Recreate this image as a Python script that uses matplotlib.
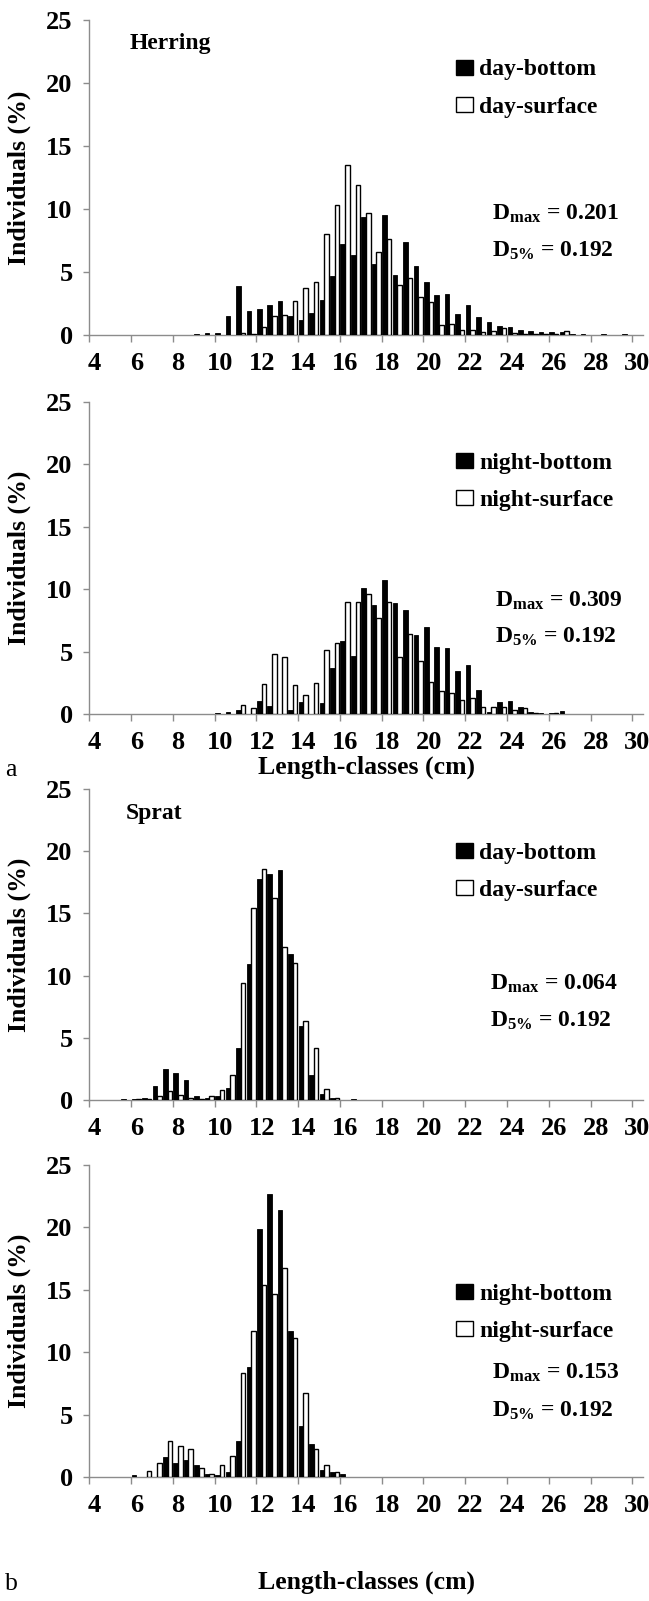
import matplotlib
matplotlib.use("Agg")
import matplotlib.pyplot as plt
from matplotlib.patches import Patch
from matplotlib.ticker import FixedLocator
import numpy as np

plt.rcParams['font.family'] = 'Liberation Serif'
plt.rcParams['font.weight'] = 'bold'
plt.rcParams['mathtext.fontset'] = 'custom'
plt.rcParams['mathtext.rm'] = 'Liberation Serif:bold'
plt.rcParams['mathtext.bf'] = 'Liberation Serif:bold'
plt.rcParams['mathtext.it'] = 'Liberation Serif:bold'

# ---------------- data ----------------
length_classes = [4.0, 4.5, 5.0, 5.5, 6.0, 6.5, 7.0, 7.5, 8.0, 8.5,
                  9.0, 9.5, 10.0, 10.5, 11.0, 11.5, 12.0, 12.5, 13.0, 13.5,
                  14.0, 14.5, 15.0, 15.5, 16.0, 16.5, 17.0, 17.5, 18.0, 18.5,
                  19.0, 19.5, 20.0, 20.5, 21.0, 21.5, 22.0, 22.5, 23.0, 23.5,
                  24.0, 24.5, 25.0, 25.5, 26.0, 26.5, 27.0, 27.5, 28.0, 28.5,
                  29.0, 29.5, 30.0]

herring_day_bottom = [0, 0, 0, 0, 0, 0, 0, 0, 0, 0,
                      0.1, 0.15, 0.15, 1.5, 3.85, 1.9, 2.05, 2.4, 2.7, 1.5,
                      1.2, 1.75, 2.8, 4.65, 7.25, 6.35, 9.35, 5.65, 9.55, 4.75,
                      7.4, 5.5, 4.2, 3.15, 3.25, 1.65, 2.35, 1.4, 1.05, 0.75,
                      0.65, 0.4, 0.3, 0.25, 0.2, 0.2, 0.1, 0.1, 0, 0.08,
                      0, 0.08, 0]
herring_day_surface = [0, 0, 0, 0, 0, 0, 0, 0, 0, 0,
                       0, 0, 0, 0, 0.15, 0.1, 0.65, 1.5, 1.55, 2.7,
                       3.75, 4.2, 8.05, 10.3, 13.5, 11.9, 9.65, 6.6, 7.6, 4.0,
                       4.55, 3.0, 2.6, 0.8, 0.9, 0.4, 0.4, 0.25, 0.3, 0.55,
                       0.15, 0.1, 0.05, 0.05, 0.05, 0.3, 0, 0, 0, 0,
                       0, 0, 0]
herring_night_bottom = [0, 0, 0, 0, 0, 0, 0, 0, 0, 0,
                        0, 0, 0.05, 0.15, 0.3, 0, 1.05, 0.65, 0, 0.3,
                        1.0, 0, 0.9, 3.65, 5.85, 4.65, 10.1, 8.7, 10.75, 8.9,
                        8.35, 6.35, 6.95, 5.4, 5.25, 3.45, 3.9, 1.95, 0.2, 0.95,
                        1.05, 0.6, 0.15, 0.1, 0.1, 0.25, 0, 0, 0, 0,
                        0, 0, 0]
herring_night_surface = [0, 0, 0, 0, 0, 0, 0, 0, 0, 0,
                         0, 0, 0, 0, 0.75, 0.45, 2.4, 4.8, 4.55, 2.3,
                         1.5, 2.5, 5.15, 5.7, 8.95, 9.0, 9.6, 7.7, 9.0, 4.55,
                         6.45, 4.25, 2.6, 1.85, 1.7, 1.15, 1.3, 0.6, 0.6, 0.6,
                         0.35, 0.5, 0.1, 0, 0.05, 0, 0, 0, 0, 0,
                         0, 0, 0]
sprat_day_bottom = [0, 0, 0, 0.08, 0.08, 0.2, 1.1, 2.5, 2.2, 1.6,
                    0.3, 0.15, 0.3, 1.0, 4.15, 10.9, 17.8, 18.2, 18.5, 11.75,
                    5.95, 2.0, 0.5, 0.15, 0, 0.1, 0, 0, 0, 0,
                    0, 0, 0, 0, 0, 0, 0, 0, 0, 0,
                    0, 0, 0, 0, 0, 0, 0, 0, 0, 0,
                    0, 0, 0]
sprat_day_surface = [0, 0, 0, 0, 0.05, 0.1, 0.3, 0.7, 0.4, 0.2,
                     0.1, 0.3, 0.8, 2.0, 9.4, 15.45, 18.6, 16.25, 12.3, 11.05,
                     6.35, 4.15, 0.9, 0.2, 0, 0, 0, 0, 0, 0,
                     0, 0, 0, 0, 0, 0, 0, 0, 0, 0,
                     0, 0, 0, 0, 0, 0, 0, 0, 0, 0,
                     0, 0, 0]
sprat_night_bottom = [0, 0, 0, 0, 0.13, 0, 0, 1.6, 1.1, 1.4,
                      1.0, 0.27, 0.2, 0.4, 2.85, 8.8, 19.9, 22.7, 21.4, 11.7,
                      4.05, 2.65, 0.6, 0.4, 0.27, 0, 0, 0, 0, 0,
                      0, 0, 0, 0, 0, 0, 0, 0, 0, 0,
                      0, 0, 0, 0, 0, 0, 0, 0, 0, 0,
                      0, 0, 0]
sprat_night_surface = [0, 0, 0, 0, 0, 0.5, 1.15, 2.9, 2.5, 2.25,
                       0.75, 0.27, 1.0, 1.65, 8.35, 11.7, 15.35, 14.7, 16.75, 11.1,
                       6.7, 2.25, 1.0, 0.4, 0, 0, 0, 0, 0, 0,
                       0, 0, 0, 0, 0, 0, 0, 0, 0, 0,
                       0, 0, 0, 0, 0, 0, 0, 0, 0, 0,
                       0, 0, 0]

x_tick_labels = ['4', '6', '8', '10', '12', '14', '16', '18', '20', '22', '24', '26', '28', '30']
y_ticks = [0, 5, 10, 15, 20, 25]
legend_labels = [['day-bottom', 'day-surface'], ['night-bottom', 'night-surface'],
                 ['day-bottom', 'day-surface'], ['night-bottom', 'night-surface']]
dmax_values = ['0.201', '0.309', '0.064', '0.153']
d5_values = ['0.192', '0.192', '0.192', '0.192']
species = ['Herring', None, 'Sprat', None]

# ---------------- layout (pixels) ----------------
W, H = 649, 1601
fig = plt.figure(figsize=(W / 100, H / 100), dpi=100)

def fx(x):
    return x / W

def fy(y):
    return 1 - y / H

AX_L, AX_R = 89.4, 642.7
panel_px = [(20, 335), (402, 714), (789, 1100), (1165, 1477)]
legend_top = [68.5, 462, 852, 1293]
dtext_y = [(214, 251), (601, 637), (984, 1021), (1373, 1411)]
dtext_x = [492, 495, 490, 492]
species_pos = [(130, 43), None, (126, 813), None]
xlabel_y = [None, 767, None, 1582]

series = [(herring_day_bottom, herring_day_surface),
          (herring_night_bottom, herring_night_surface),
          (sprat_day_bottom, sprat_day_surface),
          (sprat_night_bottom, sprat_night_surface)]

GREY = '#8c8c8c'
FS_TICK = 19
FS_TEXT = 17
FS_XLAB = 18.5
classes = np.array(length_classes)

for i, ((top, bot), (bottom_vals, surface_vals)) in enumerate(zip(panel_px, series)):
    ax = fig.add_axes([fx(AX_L), fy(bot), fx(AX_R) - fx(AX_L), (bot - top) / H])
    b = np.array(bottom_vals, dtype=float)
    s = np.array(surface_vals, dtype=float)
    mb = b > 0
    ms = s > 0
    ax.bar(classes[mb] + 0.135, b[mb], width=0.22, color='black',
           edgecolor='black', linewidth=0.6, zorder=3)
    ax.bar(classes[ms] + 0.355, s[ms], width=0.22, facecolor='white',
           edgecolor='black', linewidth=1.0, zorder=3)

    ax.set_xlim(4.0, 30.5)
    ax.set_ylim(0, 25)
    for side in ['top', 'right']:
        ax.spines[side].set_visible(False)
    for side in ['left', 'bottom']:
        ax.spines[side].set_color(GREY)
        ax.spines[side].set_linewidth(1.0)

    # labels centred on categories, tick marks between categories
    label_pos = [float(t) + 0.25 for t in x_tick_labels]
    ax.xaxis.set_major_locator(FixedLocator(label_pos))
    ax.set_xticklabels(x_tick_labels)
    ax.xaxis.set_minor_locator(FixedLocator([float(t) for t in x_tick_labels]))
    ax.tick_params(axis='x', which='major', length=0, pad=12, labelsize=FS_TICK)
    ax.tick_params(axis='x', which='minor', length=5, color=GREY, width=1.0, direction='out')
    ax.set_yticks(y_ticks)
    ax.tick_params(axis='y', which='major', length=4, color=GREY, width=1.0,
                   direction='out', pad=8, labelsize=FS_TICK)
    for lab in ax.get_xticklabels() + ax.get_yticklabels():
        lab.set_fontweight('bold')

    ax.set_ylabel('Individuals (%)', fontsize=FS_XLAB, fontweight='bold')
    ax.yaxis.label.set_va('center')
    ax.yaxis.set_label_coords((19 - AX_L) / (AX_R - AX_L), 0.5)
    if xlabel_y[i] is not None:
        ax.set_xlabel('Length-classes (cm)', fontsize=FS_XLAB, fontweight='bold')
        ax.xaxis.label.set_va('center')
        ax.xaxis.set_label_coords(0.5, -(xlabel_y[i] - bot) / (bot - top))

    handles = [Patch(facecolor='black', edgecolor='black'),
               Patch(facecolor='white', edgecolor='black', linewidth=1.0)]
    ax.legend(handles, legend_labels[i], loc='upper left',
              bbox_to_anchor=(fx(456), fy(legend_top[i] - 9)), bbox_transform=fig.transFigure,
              frameon=False, borderpad=0, borderaxespad=0,
              handlelength=0.72, handleheight=0.62, handletextpad=0.25,
              labelspacing=0.68, prop={'family': 'Liberation Serif', 'weight': 'bold', 'size': FS_TEXT})

    dy1, dy2 = dtext_y[i]
    fig.text(fx(dtext_x[i]), fy(dy1), r'D$_{\mathrm{max}}$ = ' + dmax_values[i],
             fontsize=FS_TEXT, fontweight='bold', ha='left', va='center')
    fig.text(fx(dtext_x[i]), fy(dy2), r'D$_{\mathrm{5\%}}$ = ' + d5_values[i],
             fontsize=FS_TEXT, fontweight='bold', ha='left', va='center')

    if species[i] is not None:
        sx, sy = species_pos[i]
        fig.text(fx(sx), fy(sy), species[i], fontsize=FS_TEXT, fontweight='bold',
                 ha='left', va='center')

fig.text(fx(5), fy(770), 'a', fontsize=FS_XLAB, fontweight='normal', ha='left', va='center')
fig.text(fx(5), fy(1584), 'b', fontsize=FS_XLAB, fontweight='normal', ha='left', va='center')

fig.savefig('out.png', dpi=100)
